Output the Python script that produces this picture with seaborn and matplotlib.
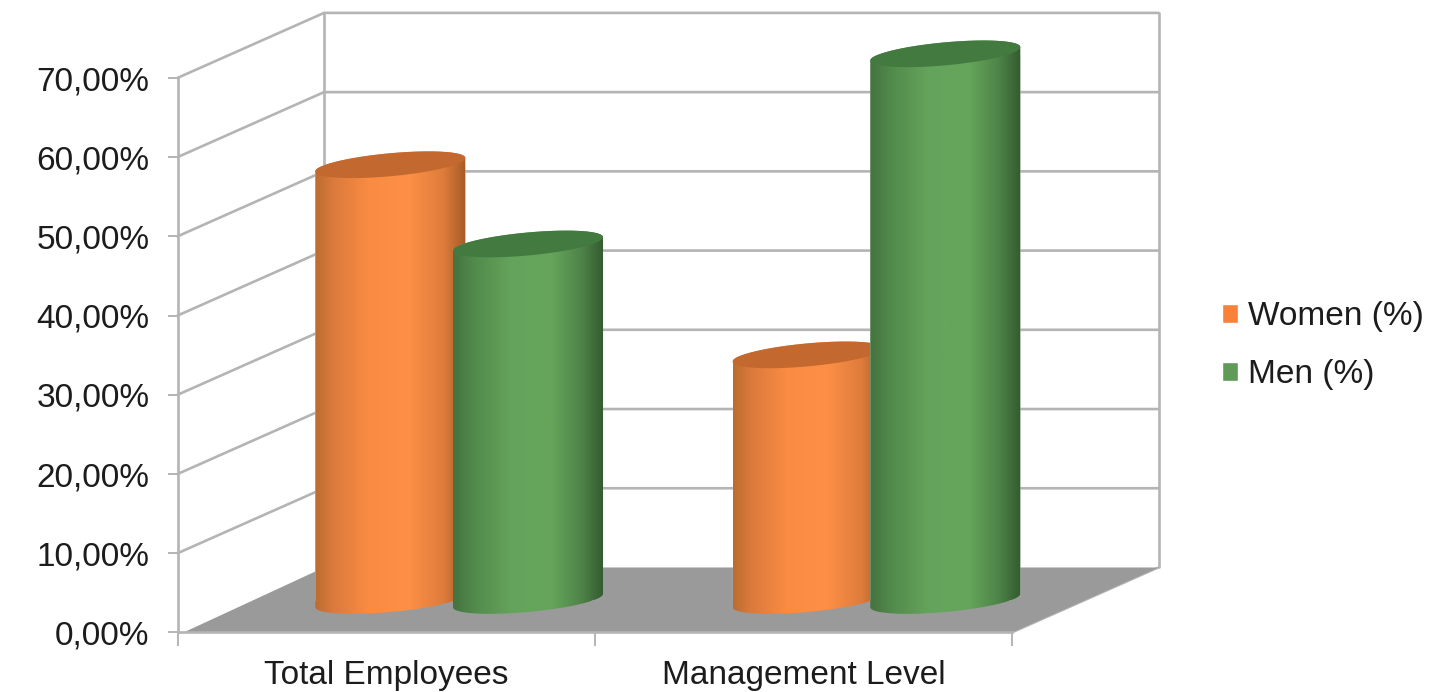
import numpy as np
import pandas as pd
import matplotlib
matplotlib.use("Agg")
import matplotlib.pyplot as plt
from matplotlib.colors import LinearSegmentedColormap
from matplotlib.patches import PathPatch, Polygon
from matplotlib.path import Path
from matplotlib.ticker import FuncFormatter
import seaborn as sns

categories = ["Total Employees", "Management Level"]
series_names = ["Women (%)", "Men (%)"]
women = [0.55, 0.31]
men = [0.45, 0.69]
y_ticks = [0.0, 0.1, 0.2, 0.3, 0.4, 0.5, 0.6, 0.7]

W, H = 1445, 692
sns.set_theme(style="white")
plt.rcParams["font.family"] = ["Liberation Sans", "DejaVu Sans"]

fig = plt.figure(figsize=(14.451, 6.921), dpi=100)
L, R, T, B = 177.5, 1012.0, 78.0, 632.5
ax = fig.add_axes([L / W, 1 - B / H, (R - L) / W, (B - T) / H])

df = pd.DataFrame({
    "category": categories * 2,
    "series": [series_names[0]] * 2 + [series_names[1]] * 2,
    "value": women + men,
})
palette = {series_names[0]: "#F98139", series_names[1]: "#5F9B56"}
sns.barplot(data=df, x="category", y="value", hue="series", hue_order=series_names,
            palette=palette, width=0.66, saturation=1, ax=ax, legend=True)

ax.set_xlim(-0.5, 1.5)
ax.set_ylim(0, 0.7)
px = 2.0 / (R - L)            # x data units per pixel
py = 0.7 / (B - T)            # y data units per pixel

LINE = "#B4B4B4"
back_dx, back_dy = 146.5 * px, 65 * py
mid_dx, mid_dy = 73 * px, 32 * py

# floor and walls
ax.add_patch(Polygon([(-0.5 + 6 * px, 0), (1.5, 0), (1.5 + back_dx, back_dy), (-0.5 + back_dx, back_dy)],
                     closed=True, fc="#9A9A9A", ec="none", zorder=0.5, clip_on=False))
for v in y_ticks:
    if v > 0:
        ax.plot([-0.5, -0.5 + back_dx, 1.5 + back_dx], [v, v + back_dy, v + back_dy],
                color=LINE, lw=1.9, zorder=0.4, clip_on=False, solid_joinstyle="miter")
ax.plot([-0.5 + back_dx] * 2, [back_dy, 0.7 + back_dy], color=LINE, lw=1.9, zorder=0.4, clip_on=False)
ax.plot([1.5 + back_dx] * 2, [back_dy, 0.7 + back_dy], color=LINE, lw=1.9, zorder=0.4, clip_on=False)
ax.plot([1.5, 1.5 + back_dx], [0, back_dy], color=LINE, lw=1.6, zorder=0.4, clip_on=False)

# cylinders, built from the seaborn bars
cmaps = [
    (LinearSegmentedColormap.from_list("o", [(0, "#BC6C32"), (0.12, "#DB7A3C"), (0.35, "#F98B43"),
                                             (0.62, "#FD9046"), (0.85, "#DF7C3C"), (1, "#A65B28")]), "#C3692F"),
    (LinearSegmentedColormap.from_list("g", [(0, "#44733F"), (0.14, "#528A4C"), (0.38, "#64A35B"),
                                             (0.65, "#65A65B"), (0.85, "#4F8449"), (1, "#335A30")]), "#437A40"),
]
cyl_w = 150 * px
semi_a = cyl_w / 2
semi_b = 11.5 * py
tilt = 0.09 * (py / px)       # rise of the ellipses to the right, in data units
t = np.linspace(0, 2 * np.pi, 121)


def ell(cx, cy, tt):
    return np.column_stack([cx + semi_a * np.cos(tt),
                            cy + semi_b * np.sin(tt) + semi_a * np.cos(tt) * tilt])


z = 2.0
for container, (cmap, top_col) in zip(ax.containers, cmaps):
    for bar in container:
        cx = bar.get_x() + bar.get_width() / 2 + mid_dx
        val = bar.get_height()
        base = mid_dy
        top = base + val
        upper = ell(cx, top, np.linspace(0, np.pi, 60))           # top rim, right to left
        lower = ell(cx, base, np.linspace(np.pi, 2 * np.pi, 60))  # bottom rim, left to right
        body = PathPatch(Path(np.vstack([upper, lower, upper[:1]])), fc="none", ec="none",
                         transform=ax.transData, zorder=z)
        ax.add_patch(body)
        bar.set_x(cx - semi_a)
        bar.set_width(cyl_w)
        bar.set_y(base)
        bar.set_zorder(z)
        bar.set_clip_path(body)
        bar.set_clip_box(fig.bbox)
        im = ax.imshow(np.linspace(0, 1, 256)[None, :], cmap=cmap, aspect="auto", interpolation="bilinear",
                       extent=(cx - semi_a, cx + semi_a, base - 3 * semi_b, top + 3 * semi_b), zorder=z + 0.1)
        im.set_clip_path(body)
        im.set_clip_box(fig.bbox)
        ax.add_patch(Polygon(ell(cx, top, t), closed=True, fc=top_col, ec="none", zorder=z + 0.2, clip_on=False))
        z += 1

ax.set_xlim(-0.5, 1.5)
ax.set_ylim(0, 0.7)

# axes, ticks, labels
for s in ["top", "right"]:
    ax.spines[s].set_visible(False)
for s in ["left", "bottom"]:
    ax.spines[s].set_color(LINE)
    ax.spines[s].set_linewidth(1.9)
ax.patch.set_alpha(0)
ax.set_xlabel("")
ax.set_ylabel("")
ax.set_yticks(y_ticks)
ax.yaxis.set_major_formatter(FuncFormatter(lambda v, _: f"{v * 100:.2f}%".replace(".", ",")))
ax.tick_params(axis="y", left=True, length=7, width=1.4, color=LINE, pad=13, labelsize=24, labelcolor="#1C1C1C")
ax.set_xticks([0, 1])
ax.set_xticklabels(categories)
ax.set_xticks([-0.5, 0.5, 1.5], minor=True)
ax.tick_params(axis="x", which="major", bottom=False, length=0, pad=20, labelsize=24, labelcolor="#1C1C1C")
ax.tick_params(axis="x", which="minor", bottom=True, length=10, width=1.4, color=LINE)

sns.move_legend(ax, loc="center left", bbox_to_anchor=(1221.5 / W, 1 - 345.5 / H),
                bbox_transform=fig.transFigure, frameon=False, title=None, fontsize=24,
                handlelength=0.5, handleheight=0.5, handletextpad=0.3, labelspacing=0.81,
                borderpad=0, borderaxespad=0, labelcolor="#1C1C1C")

fig.savefig("out.png", dpi=100, facecolor="white")
